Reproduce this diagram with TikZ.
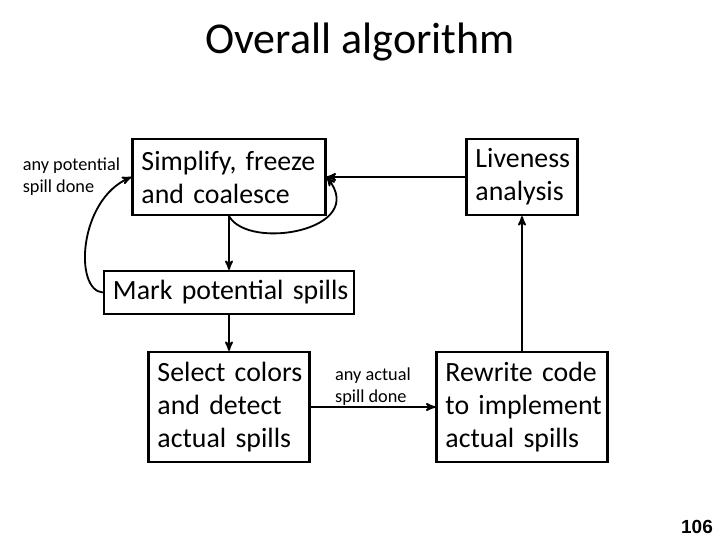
\documentclass[tikz,border=0pt]{standalone}
\usepackage{fontspec}
\setmainfont{Carlito}
\newfontfamily\numfont{Liberation Sans}
\usetikzlibrary{arrows,positioning}
\hyphenpenalty=10000
\exhyphenpenalty=10000

\begin{document}
\begin{tikzpicture}[x=0.025cm, y=-0.025cm, >=stealth', auto,
    blk/.style={draw, line width=1.6pt, align=left, inner xsep=0.225cm,
      font=\fontsize{19.8}{23.4}\selectfont},
    lbl/.style={font=\fontsize{13}{16}\selectfont},
    conn/.style={->, line width=1.3pt}]
  \useasboundingbox (0,0) rectangle (720,540);
  \node [font=\fontsize{31.3}{36}\selectfont] (title) at (360,42) {Overall algorithm};
  \node [blk, text width=4.375cm, minimum height=1.9cm]   (simp) at (229,177) {Simplify,~freeze\\and~coalesce};
  \node [blk, text width=2.325cm, minimum height=1.9cm]   (live) at (522,177) {Liveness\\analysis};
  \node [blk, text width=5.8cm, minimum height=1.075cm]   (mark) at (229,292.5) {Mark~potential~spills};
  \node [blk, text width=3.575cm, minimum height=2.75cm]  (sel)  at (229,407) {Select~colors\\and~detect\\actual~spills};
  \node [blk, text width=3.825cm, minimum height=2.75cm]  (rew)  at (522,407) {Rewrite~code\\to~implement\\actual~spills};
  \node [lbl, align=left, anchor=east] (potlbl) at (125,176.5) {any potential\\spill done};
  \node [font=\numfont\bfseries\fontsize{13.5}{15}\selectfont] (pnum) at (697,527) {106};
  \path (simp.south) edge[conn] (mark.north)
        (mark.south) edge[conn] (sel.north)
        (live.west)  edge[conn] (simp.east)
        (rew.north)  edge[conn] (live.south)
        (sel.east)   edge[conn] node [lbl, align=left, yshift=-3pt] {any actual\\spill done} (rew.west);
  \draw[conn] (simp.south) .. controls +(20,35) and +(42,53) .. (simp.east);
  \draw[conn] (mark.west) .. controls +(-29,-2) and +(-53,23) .. (simp.west);
\end{tikzpicture}
\end{document}
